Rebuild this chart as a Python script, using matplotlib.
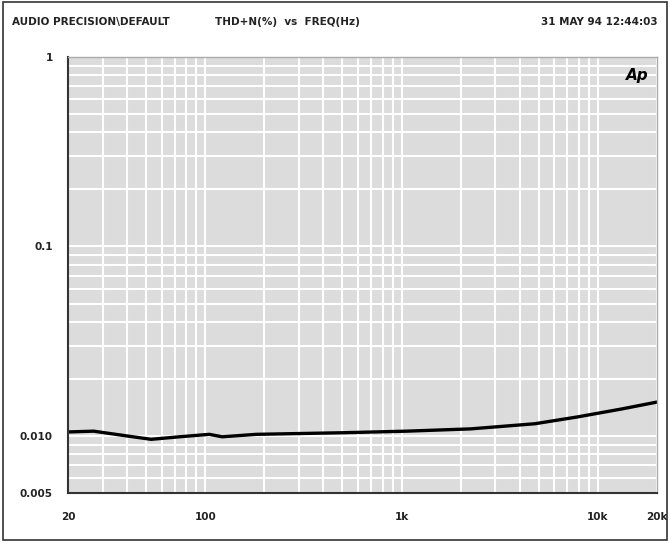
import numpy as np
import matplotlib.pyplot as plt
from matplotlib.ticker import FixedLocator, NullFormatter, LogLocator

# THD+N curve
freq_hz = [20, 27, 40, 53, 74, 105, 122, 182, 500, 1060, 2250, 4770, 7860, 13300, 20000]
thd_pct = [0.0105, 0.0106, 0.0100, 0.0096, 0.0099, 0.0102, 0.0099, 0.0102,
           0.0104, 0.0106, 0.0109, 0.0116, 0.0126, 0.0139, 0.0151]

x_ticks = [20, 100, 1000, 10000, 20000]
x_labels = ['20', '100', '1k', '10k', '20k']
y_ticks = [0.005, 0.010, 0.1, 1]
y_labels = ['0.005', '0.010', '0.1', '1']

fig = plt.figure(figsize=(6.7, 5.42), dpi=100)
ax = fig.add_axes([0.1015, 0.0904, 0.8791, 0.8044])

ax.set_xscale('log')
ax.set_yscale('log')
ax.set_xlim(20, 20000)
ax.set_ylim(0.005, 1)
ax.set_facecolor('#dcdcdc')

ax.xaxis.set_major_locator(FixedLocator(x_ticks))
ax.xaxis.set_minor_locator(LogLocator(base=10, subs=np.arange(2, 10)))
ax.yaxis.set_major_locator(FixedLocator(y_ticks))
ax.yaxis.set_minor_locator(LogLocator(base=10, subs=np.arange(2, 10)))
ax.xaxis.set_minor_formatter(NullFormatter())
ax.yaxis.set_minor_formatter(NullFormatter())
ax.set_xticklabels(x_labels, fontweight='bold')
ax.set_yticklabels(y_labels, fontweight='bold')

ax.grid(True, which='both', color='white', linewidth=1.5)
ax.set_axisbelow(True)
ax.tick_params(which='both', length=0)
ax.tick_params(axis='x', pad=14, labelsize=7.5, labelcolor='#222222')
ax.tick_params(axis='y', pad=11, labelsize=7.5, labelcolor='#222222')

ax.plot(freq_hz, thd_pct, color='black', linewidth=2.4)

for side in ['left', 'bottom']:
    ax.spines[side].set_color('#333333')
    ax.spines[side].set_linewidth(1.5)
for side in ['top', 'right']:
    ax.spines[side].set_color('#aaaaaa')
    ax.spines[side].set_linewidth(1)

ax.text(0.985, 0.975, 'Ap', transform=ax.transAxes, ha='right', va='top',
        fontsize=11, style='italic', fontweight='bold')

fig.text(12 / 670, 1 - 22 / 542, 'AUDIO PRECISION\\DEFAULT', fontsize=7.5,
         va='center', fontweight='bold', color='#222222')
fig.text(215 / 670, 1 - 22 / 542, 'THD+N(%)  vs  FREQ(Hz)', fontsize=7.5,
         va='center', fontweight='bold', color='#222222')
fig.text(658 / 670, 1 - 22 / 542, '31 MAY 94 12:44:03', fontsize=7.5,
         va='center', ha='right', fontweight='bold', color='#222222')

# outer frame
fig.patches.append(plt.Rectangle((0.004, 0.004), 0.992, 0.992, transform=fig.transFigure,
                                 fill=False, edgecolor='#333333', linewidth=1.2))

plt.savefig('out.png', dpi=100)
